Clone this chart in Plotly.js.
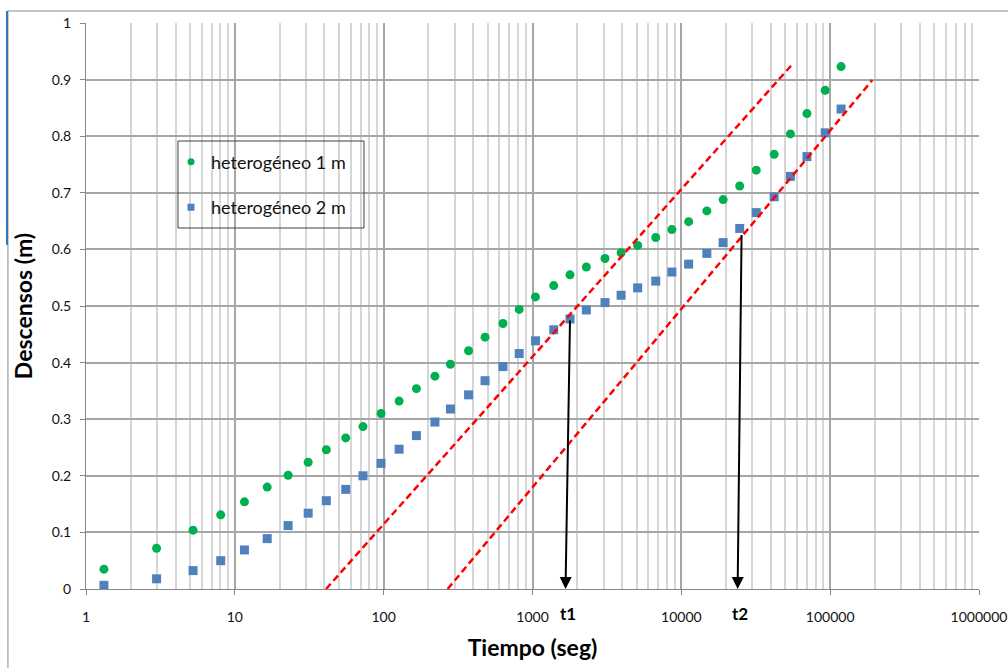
<!DOCTYPE html>
<html>
<head>
<meta charset="utf-8">
<script src="https://cdn.plot.ly/plotly-3.0.1.min.js"></script>
<style>html,body{margin:0;padding:0;background:#fff;}#chart{width:1008px;height:668px;}</style>
</head>
<body>
<div id="chart"></div>
<script>
// ---- data ----
const tiempo = [1.32, 2.98, 5.24, 8.04, 11.6, 16.5, 22.8, 31.1, 41.2, 55.6, 72.6, 96, 127, 166, 221, 281, 372, 480, 633, 814, 1047, 1389, 1787, 2300, 3070, 3940, 5090, 6730, 8640, 11200, 14840, 19090, 24670, 31870, 42040, 54080, 69840, 92600, 118400];
const heterogeneo1 = [0.035, 0.072, 0.104, 0.131, 0.154, 0.180, 0.201, 0.224, 0.246, 0.267, 0.287, 0.310, 0.332, 0.354, 0.376, 0.397, 0.421, 0.445, 0.469, 0.494, 0.516, 0.536, 0.555, 0.569, 0.584, 0.594, 0.607, 0.621, 0.635, 0.649, 0.668, 0.688, 0.712, 0.740, 0.768, 0.804, 0.840, 0.881, 0.923];
const heterogeneo2 = [0.0065, 0.018, 0.0325, 0.050, 0.069, 0.089, 0.112, 0.134, 0.156, 0.176, 0.200, 0.222, 0.247, 0.271, 0.295, 0.318, 0.343, 0.368, 0.393, 0.416, 0.4385, 0.458, 0.477, 0.493, 0.506, 0.519, 0.532, 0.544, 0.560, 0.574, 0.593, 0.612, 0.637, 0.665, 0.693, 0.729, 0.764, 0.806, 0.848];
const seriesNames = ['heterogéneo 1 m', 'heterogéneo 2 m'];

// dashed red straight lines (end points)
const recta1X = [41, 54800];
const recta1Y = [0, 0.925];
const recta2X = [269, 191800];
const recta2Y = [0, 0.899];

// arrows t1, t2
const arrowLabels = ['t1', 't2'];
const arrowTailX = [1787, 25400];
const arrowTailY = [0.477, 0.628];
const arrowTipX = [1667, 23900];
const arrowTipY = [0, 0];

// axis ticks
const xTickVals = [1, 10, 100, 1000, 10000, 100000, 1000000];
const xTickText = ['1', '10', '100', '1000', '10000', '100000', '1000000'];
const yTickVals = [0, 0.1, 0.2, 0.3, 0.4, 0.5, 0.6, 0.7, 0.8, 0.9, 1];
const yTickText = ['0', '0.1', '0.2', '0.3', '0.4', '0.5', '0.6', '0.7', '0.8', '0.9', '1'];

// ---- chart ----
const FONT = 'Lato, "Open Sans", sans-serif';
const GREEN = '#00B050', BLUE = '#4F81BD';
const traces = [
  {x: tiempo, y: heterogeneo1, name: seriesNames[0], mode: 'markers', type: 'scatter', showlegend: false,
   marker: {symbol: 'circle', size: 9, color: GREEN}, cliponaxis: false},
  {x: tiempo, y: heterogeneo2, name: seriesNames[1], mode: 'markers', type: 'scatter', showlegend: false,
   marker: {symbol: 'square', size: 9, color: BLUE}, cliponaxis: false},
  {x: recta1X, y: recta1Y, mode: 'lines', type: 'scatter', showlegend: false, hoverinfo: 'skip',
   line: {color: '#FF0000', width: 2.5, dash: '7px,4px'}},
  {x: recta2X, y: recta2Y, mode: 'lines', type: 'scatter', showlegend: false, hoverinfo: 'skip',
   line: {color: '#FF0000', width: 2.5, dash: '7px,4px'}},
  // legend entries (smaller symbols, as in the reference legend)
  {x: [null], y: [null], name: seriesNames[0], mode: 'markers', type: 'scatter', legendgroup: 'a',
   marker: {symbol: 'circle', size: 7, color: GREEN}},
  {x: [null], y: [null], name: seriesNames[1], mode: 'markers', type: 'scatter', legendgroup: 'b',
   marker: {symbol: 'square', size: 7, color: BLUE}}
];

const annotations = [];
for (let i = 0; i < arrowLabels.length; i++) {
  annotations.push({
    x: Math.log10(arrowTipX[i]), y: arrowTipY[i], xref: 'x', yref: 'y',
    ax: Math.log10(arrowTailX[i]), ay: arrowTailY[i], axref: 'x', ayref: 'y',
    showarrow: true, arrowhead: 2, arrowsize: 1.2, arrowwidth: 2, arrowcolor: '#000', text: ''
  });
  annotations.push({
    x: Math.log10(arrowTipX[i]), y: 0, xref: 'x', yref: 'y', yshift: -24, xshift: 2,
    text: '<b>' + arrowLabels[i] + '</b>', showarrow: false,
    font: {family: FONT, size: 17, color: '#000'}
  });
}

const layout = {
  width: 1008, height: 668,
  margin: {l: 86, r: 29, t: 23, b: 79},
  paper_bgcolor: '#fff', plot_bgcolor: '#fff',
  font: {family: FONT, size: 14, color: '#000'},
  showlegend: true,
  legend: {
    x: 0.0952, y: 0.787, xanchor: 'left', yanchor: 'top',
    bgcolor: 'rgba(0,0,0,0)', borderwidth: 0,
    font: {family: FONT, size: 18, color: '#111'},
    traceorder: 'grouped', tracegroupgap: 19
  },
  xaxis: {
    type: 'log', range: [0, 6], autorange: false,
    tickmode: 'array', tickvals: xTickVals, ticktext: xTickText,
    ticks: 'outside', ticklen: 5, tickcolor: '#868686', ticklabelstandoff: 10,
    showgrid: true, gridcolor: '#A6A6A6', gridwidth: 2,
    minor: {dtick: 'D1', showgrid: true, gridcolor: '#D6D6D6', gridwidth: 2, ticks: ''},
    showline: true, linecolor: '#868686', linewidth: 1,
    zeroline: false,
    tickfont: {family: FONT, size: 14, color: '#111'},
    title: {text: '<b>Tiempo (seg)</b>', font: {family: FONT, size: 23, color: '#000'}, standoff: 16}
  },
  yaxis: {
    range: [0, 1], autorange: false,
    tickmode: 'array', tickvals: yTickVals, ticktext: yTickText,
    ticks: 'outside', ticklen: 5, tickcolor: '#868686', ticklabelstandoff: 6,
    showgrid: true, gridcolor: '#A6A6A6', gridwidth: 2,
    showline: true, linecolor: '#868686', linewidth: 1,
    zeroline: false,
    tickfont: {family: FONT, size: 14, color: '#111'},
    title: {text: '<b>Descensos (m)</b>', font: {family: FONT, size: 23, color: '#000'}, standoff: 12}
  },
  shapes: [
    // legend box
    {type: 'rect', xref: 'paper', yref: 'paper', x0: 0.1030, x1: 0.3113, y0: 0.6378, y1: 0.7915,
     line: {color: '#404040', width: 1}, fillcolor: 'rgba(0,0,0,0)', layer: 'above'},
    // outer chart frame (top and left)
    {type: 'line', xref: 'paper', yref: 'paper', x0: -0.0874, x1: 1.04, y0: 1.0212, y1: 1.0212,
     line: {color: '#8C8C8C', width: 1}},
    {type: 'line', xref: 'paper', yref: 'paper', x0: -0.0874, x1: -0.0874, y0: 1.0212, y1: -0.15,
     line: {color: '#8C8C8C', width: 1}},
    // blue selection mark on the left
    {type: 'line', xref: 'paper', yref: 'paper', x0: -0.0885, x1: -0.0885, y0: 1.0212, y1: 0.608,
     line: {color: '#2E75B6', width: 2}}
  ],
  annotations: annotations
};

Plotly.newPlot('chart', traces, layout, {displayModeBar: false, staticPlot: true});
</script>
</body>
</html>
